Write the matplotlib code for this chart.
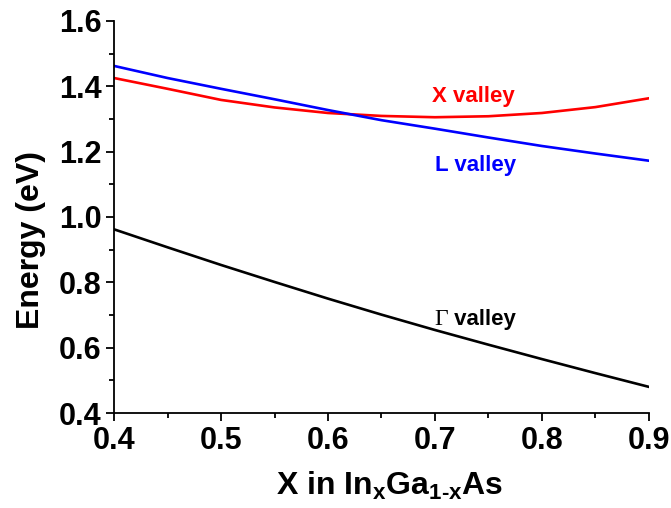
import matplotlib
matplotlib.use("Agg")
import matplotlib.pyplot as plt
from matplotlib.ticker import MultipleLocator
from matplotlib.transforms import offset_copy

# composition x in InxGa1-xAs
x = [0.40, 0.45, 0.50, 0.55, 0.60, 0.65, 0.70, 0.75, 0.80, 0.85, 0.90]
# valley energies (eV)
gamma_valley = [0.962, 0.907, 0.853, 0.801, 0.750, 0.701, 0.654, 0.609, 0.565, 0.522, 0.480]
l_valley = [1.462, 1.425, 1.392, 1.360, 1.327, 1.296, 1.270, 1.243, 1.217, 1.194, 1.172]
x_valley = [1.425, 1.392, 1.358, 1.335, 1.318, 1.309, 1.305, 1.308, 1.318, 1.336, 1.363]

plt.rcParams['font.family'] = ['Liberation Sans', 'DejaVu Sans']
plt.rcParams['mathtext.fontset'] = 'custom'
plt.rcParams['mathtext.rm'] = 'Liberation Sans:bold'
plt.rcParams['mathtext.it'] = 'Liberation Sans:bold'
plt.rcParams['mathtext.bf'] = 'Liberation Sans:bold'

fig = plt.figure(figsize=(6.71, 5.08), dpi=100)
ax = fig.add_axes([0.170, 0.187, 0.797, 0.772])

ax.plot(x, x_valley, color='#ff0000', lw=1.9)
ax.plot(x, l_valley, color='#0000ff', lw=1.9)
ax.plot(x, gamma_valley, color='black', lw=1.9)

ax.set_xlim(0.4, 0.9)
ax.set_ylim(0.4, 1.6)
ax.xaxis.set_major_locator(MultipleLocator(0.1))
ax.xaxis.set_minor_locator(MultipleLocator(0.05))
ax.yaxis.set_major_locator(MultipleLocator(0.2))
ax.yaxis.set_minor_locator(MultipleLocator(0.1))
ax.xaxis.set_major_formatter(plt.FormatStrFormatter('%.1f'))
ax.yaxis.set_major_formatter(plt.FormatStrFormatter('%.1f'))

for s in ['top', 'right']:
    ax.spines[s].set_visible(False)
for s in ['left', 'bottom']:
    ax.spines[s].set_linewidth(1.3)
ax.tick_params(which='major', direction='out', length=6, width=1.3, labelsize=22, pad=3)
ax.tick_params(which='minor', direction='out', length=3.5, width=1.3)
for lab in ax.get_xticklabels() + ax.get_yticklabels():
    lab.set_fontweight('bold')

ax.set_xlabel('X in In$_\\mathregular{x}$Ga$_\\mathregular{1\u2010x}$As', fontsize=23, fontweight='bold')
ax.xaxis.set_label_coords(0.516, -0.145)
ax.set_ylabel('Energy (eV)', fontsize=23, fontweight='bold')
ax.yaxis.set_label_coords(-0.128, 0.441)

# valley labels
ax.text(0.697, 1.353, 'X valley', color='#ff0000', fontsize=16, fontweight='bold')
ax.text(0.700, 1.141, 'L valley', color='#0000ff', fontsize=16, fontweight='bold')
ax.text(0.699, 0.669, 'Γ', color='black', fontsize=17, family='Liberation Serif')
tr = offset_copy(ax.transData, fig=fig, x=10, y=0, units='points')
ax.text(0.699, 0.669, ' valley', color='black', fontsize=16, fontweight='bold', transform=tr)

fig.savefig('out.png', dpi=100)
